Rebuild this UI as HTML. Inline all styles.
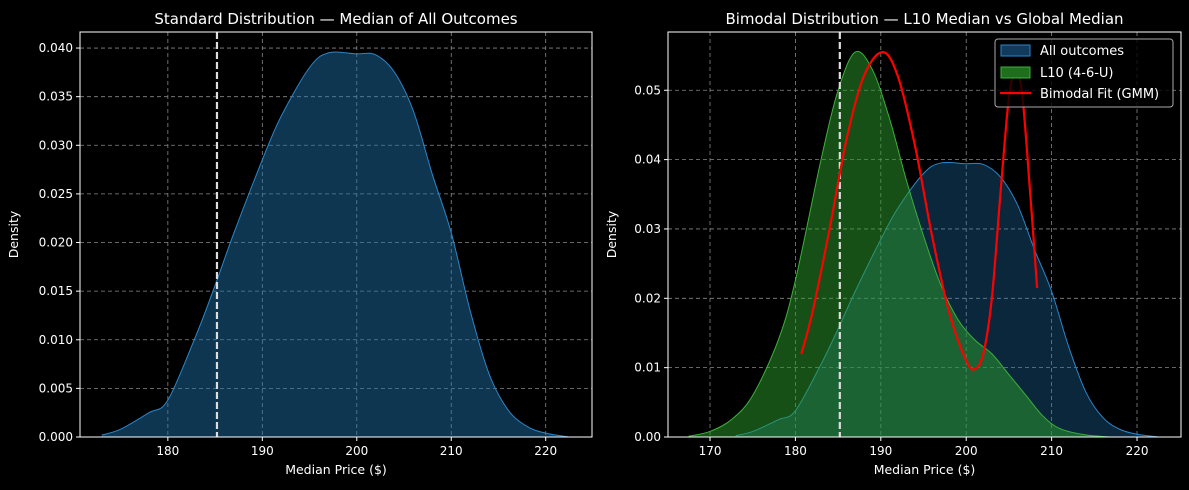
<!DOCTYPE html>
<html><head><meta charset="utf-8"><style>
body{margin:0;background:#000;}
svg{display:block;font-family:"DejaVu Sans","Liberation Sans",sans-serif;}
</style></head><body>
<svg id="c" width="1189" height="490" xmlns="http://www.w3.org/2000/svg">
<rect width="1189" height="490" fill="#000"/>
</svg>
<script>
const allX=[173,175,178,180,183,185,187,190,192,195,197,200,202,204,206,208,210,212,214,216,218,220,222.5];
const allD=[0.0002,0.0008,0.0025,0.0038,0.0105,0.0156,0.021,0.0285,0.033,0.038,0.0395,0.0394,0.0393,0.0375,0.0335,0.027,0.021,0.013,0.0065,0.0028,0.0011,0.0004,0.0];
const l10X=[167.5,170,172.5,175,178,180,183,185,187,189,191,193,195,197,199,201,203,205,207,209,211,214,217];
const l10D=[0.0001,0.0008,0.0025,0.006,0.014,0.0226,0.04,0.05,0.0555,0.053,0.046,0.037,0.029,0.022,0.017,0.014,0.012,0.009,0.006,0.003,0.0012,0.0003,0.0];
const gmmX=[180.7,182,184,186,188,190.2,192,194,196,198,200,201,202,203,204,205,205.7,206.5,207.5,208.3];
const gmmD=[0.012,0.018,0.03,0.043,0.052,0.0555,0.052,0.042,0.029,0.018,0.011,0.0098,0.012,0.02,0.035,0.049,0.052,0.05,0.035,0.0215];
const medianVal=185.2;
const leftXTicks=[180,190,200,210,220];
const leftYTicks=[0,0.005,0.01,0.015,0.02,0.025,0.03,0.035,0.04];
const rightXTicks=[170,180,190,200,210,220];
const rightYTicks=[0,0.01,0.02,0.03,0.04,0.05];

const svg=document.getElementById('c');
const NS='http://www.w3.org/2000/svg';
function mk(tag,attrs,parent){const e=document.createElementNS(NS,tag);for(const k in attrs)e.setAttribute(k,attrs[k]);(parent||svg).appendChild(e);return e;}
function smooth(pts){let d='M'+pts[0][0]+','+pts[0][1];for(let i=0;i<pts.length-1;i++){const p0=pts[Math.max(0,i-1)],p1=pts[i],p2=pts[i+1],p3=pts[Math.min(pts.length-1,i+2)];
const c1x=p1[0]+(p2[0]-p0[0])/6,c1y=p1[1]+(p2[1]-p0[1])/6,c2x=p2[0]-(p3[0]-p1[0])/6,c2y=p2[1]-(p3[1]-p1[1])/6;d+=' C'+c1x+','+c1y+' '+c2x+','+c2y+' '+p2[0]+','+p2[1];}return d;}

function panel(name,L,R,T,B,x0,x1,y1,xt,yt,ydec,title,ylOff){
  const sx=v=>L+(v-x0)/(x1-x0)*(R-L), sy=v=>B-(v/y1)*(B-T);
  const g=mk('g',{});
  xt.forEach(v=>{mk('line',{x1:sx(v),x2:sx(v),y1:T,y2:B,stroke:'#888','stroke-dasharray':'4,3','stroke-width':0.8},g);
    mk('line',{x1:sx(v),x2:sx(v),y1:B,y2:B+4,stroke:'#fff'},g);
    const t=mk('text',{x:sx(v),y:B+18,fill:'#fff','font-size':12,'text-anchor':'middle'},g);t.textContent=v;});
  yt.forEach(v=>{mk('line',{x1:L,x2:R,y1:sy(v),y2:sy(v),stroke:'#888','stroke-dasharray':'4,3','stroke-width':0.8},g);
    mk('line',{x1:L-4,x2:L,y1:sy(v),y2:sy(v),stroke:'#fff'},g);
    const t=mk('text',{x:L-7,y:sy(v)+4,fill:'#fff','font-size':12,'text-anchor':'end'},g);t.textContent=v.toFixed(ydec);});
  const tt=mk('text',{x:(L+R)/2,y:T-8,fill:'#fff','font-size':15,'text-anchor':'middle'},g);tt.textContent=title;
  
  const xl=mk('text',{x:(L+R)/2,y:B+37,fill:'#fff','font-size':12.5,'text-anchor':'middle'},g);xl.textContent='Median Price ($)';
  const yl=mk('text',{x:0,y:0,fill:'#fff','font-size':12.5,'text-anchor':'middle',transform:'translate('+(L-ylOff)+','+((T+B)/2)+') rotate(-90)'},g);yl.textContent='Density';
  return {g,sx,sy,L,R,T,B};
}
function area(p,xs,ds,fill,stroke,name){
  const pts=xs.map((x,i)=>[p.sx(x),p.sy(ds[i])]);const d=smooth(pts);
  const a=mk('path',{d:d+' L'+pts[pts.length-1][0]+','+p.B+' L'+pts[0][0]+','+p.B+' Z',fill:fill,stroke:'none'},p.g);
  
  const l=mk('path',{d:d,fill:'none',stroke:stroke,'stroke-width':1},p.g);
  
}
function frame(p){mk('rect',{x:p.L,y:p.T,width:p.R-p.L,height:p.B-p.T,fill:'none',stroke:'#fff','stroke-width':1},p.g);}
function median(p){const m=mk('line',{x1:p.sx(medianVal),x2:p.sx(medianVal),y1:p.T,y2:p.B,stroke:'#ddd','stroke-width':2.2,'stroke-dasharray':'7,3'},p.g);
  }

const lp=panel('left-panel',80,592,32,437,170.7,224.9,0.04165,leftXTicks,leftYTicks,3,'Standard Distribution — Median of All Outcomes',62);
area(lp,allX,allD,'rgba(31,119,180,0.45)','#2a86c8','all-outcomes');
median(lp);frame(lp);

const rp=panel('right-panel',668,1181,32,437,165.08,225.15,0.0584,rightXTicks,rightYTicks,2,'Bimodal Distribution — L10 Median vs Global Median',52);
area(rp,allX,allD,'rgba(31,119,180,0.33)','#2a86c8','all-outcomes-right');
area(rp,l10X,l10D,'rgba(44,160,44,0.5)','#3cb03c','l10');
median(rp);
const gp=gmmX.map((x,i)=>[rp.sx(x),rp.sy(gmmD[i])]);
const gl=mk('path',{d:smooth(gp),fill:'none',stroke:'#f00','stroke-width':2.2},rp.g);

frame(rp);
const lg=mk('g',{});
mk('rect',{x:995,y:39,width:178,height:68,rx:3,fill:'rgba(0,0,0,0.8)',stroke:'#aaa'},lg);
mk('rect',{x:1001,y:45,width:29,height:11,fill:'#123a5c',stroke:'#2a86c8'},lg);
mk('rect',{x:1001,y:67,width:29,height:11,fill:'#1e6e1e',stroke:'#3cb03c'},lg);
mk('line',{x1:1000,x2:1031,y1:93,y2:93,stroke:'#f00','stroke-width':2.2},lg);
[['All outcomes',55],['L10 (4-6-U)',77],['Bimodal Fit (GMM)',98]].forEach(([s,y])=>{const t=mk('text',{x:1040,y:y,fill:'#fff','font-size':13},lg);t.textContent=s;});
</script>
</body></html>
